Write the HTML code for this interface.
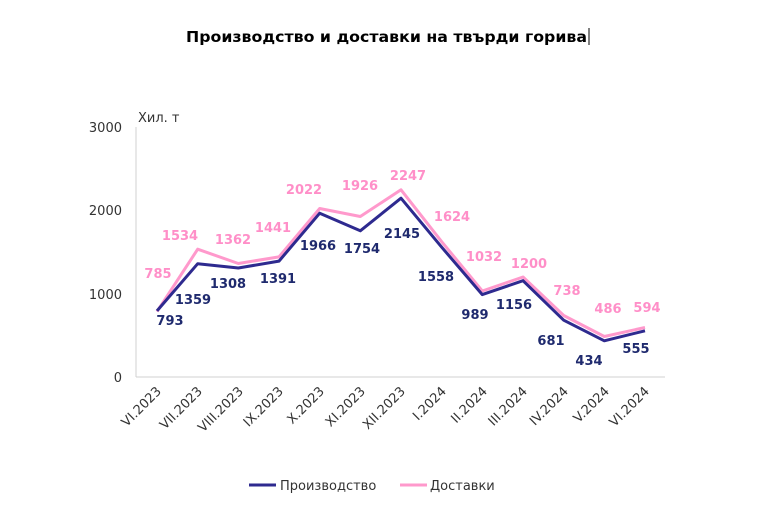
<!DOCTYPE html>
<html><head><meta charset="utf-8"><style>
html,body{margin:0;padding:0;background:#fff;}
svg{display:block;font-family:"DejaVu Sans","Liberation Sans",sans-serif;}
.ax{font-size:13px;fill:#333;}
.p{font-size:13px;font-weight:bold;fill:#ff8fc8;}
.b{font-size:13px;font-weight:bold;fill:#1f2a6e;}
</style></head><body>
<svg width="768" height="524" viewBox="0 0 768 524">
<text x="186" y="42" textLength="401" lengthAdjust="spacingAndGlyphs" font-size="15" font-weight="bold" fill="#000">Производство и доставки на твърди горива</text>
<line x1="589" y1="28" x2="589" y2="45" stroke="#000" stroke-width="1"/>
<text x="138" y="122" class="ax">Хил. т</text>
<line x1="136" y1="127" x2="136" y2="377" stroke="#d0d0d0"/>
<line x1="136" y1="377" x2="665" y2="377" stroke="#d0d0d0"/>
<g class="ax" text-anchor="end">
<text x="122" y="132">3000</text>
<text x="122" y="215">2000</text>
<text x="122" y="299">1000</text>
<text x="122" y="382">0</text>
</g>
<g class="ax" text-anchor="end">
<text transform="translate(162,392) rotate(-45)">VI.2023</text>
<text transform="translate(203,392) rotate(-45)">VII.2023</text>
<text transform="translate(244,392) rotate(-45)">VIII.2023</text>
<text transform="translate(284,392) rotate(-45)">IX.2023</text>
<text transform="translate(325,392) rotate(-45)">X.2023</text>
<text transform="translate(366,392) rotate(-45)">XI.2023</text>
<text transform="translate(406,392) rotate(-45)">XII.2023</text>
<text transform="translate(447,392) rotate(-45)">I.2024</text>
<text transform="translate(488,392) rotate(-45)">II.2024</text>
<text transform="translate(528,392) rotate(-45)">III.2024</text>
<text transform="translate(569,392) rotate(-45)">IV.2024</text>
<text transform="translate(610,392) rotate(-45)">V.2024</text>
<text transform="translate(650,392) rotate(-45)">VI.2024</text>
</g>
<polyline fill="none" stroke="#ff99cc" stroke-width="3" stroke-linejoin="round" points="157,311.6 197.7,249.2 238.3,263.5 279,256.9 319.7,208.5 360.3,216.5 401,189.8 441.7,241.7 482.3,291 523,277 563.7,315.5 604.3,336.5 645,327.5"/>
<polyline fill="none" stroke="#2e2a8f" stroke-width="3" stroke-linejoin="round" points="157,310.9 197.7,263.7 238.3,268 279,261.1 319.7,213.2 360.3,230.8 401,198.2 441.7,247.2 482.3,294.6 523,280.7 563.7,320.2 604.3,340.8 645,330.8"/>
<g class="p" text-anchor="middle">
<text x="158" y="278">785</text><text x="180" y="240">1534</text><text x="233" y="244">1362</text><text x="273" y="232">1441</text><text x="304" y="194">2022</text><text x="360" y="190">1926</text><text x="408" y="180">2247</text><text x="452" y="221">1624</text><text x="484" y="261">1032</text><text x="529" y="268">1200</text><text x="567" y="295">738</text><text x="608" y="313">486</text><text x="647" y="312">594</text>
</g>
<g class="b" text-anchor="middle">
<text x="170" y="325">793</text><text x="193" y="304">1359</text><text x="228" y="288">1308</text><text x="278" y="283">1391</text><text x="318" y="250">1966</text><text x="362" y="253">1754</text><text x="402" y="238">2145</text><text x="436" y="281">1558</text><text x="475" y="319">989</text><text x="514" y="309">1156</text><text x="551" y="345">681</text><text x="589" y="365">434</text><text x="636" y="353">555</text>
</g>
<line x1="249" y1="485" x2="276" y2="485" stroke="#2e2a8f" stroke-width="3"/>
<text x="280" y="490" class="ax">Производство</text>
<line x1="400" y1="485" x2="427" y2="485" stroke="#ff99cc" stroke-width="3"/>
<text x="430" y="490" class="ax">Доставки</text>
</svg>
</body></html>
